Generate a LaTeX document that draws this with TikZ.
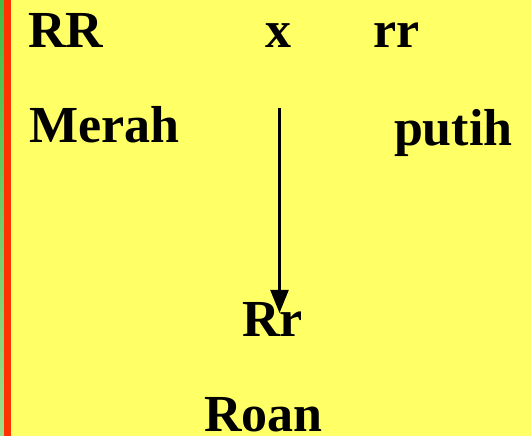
\documentclass[tikz,border=0pt]{standalone}
\usepackage{fontspec}
\setmainfont{Liberation Serif}
\usetikzlibrary{positioning,arrows.meta}
\definecolor{latar}{HTML}{FFFF66}
\definecolor{garismerah}{HTML}{FF3300}
\definecolor{hijauatas}{HTML}{44BB44}
\definecolor{hijaubawah}{HTML}{A0DC8C}
\begin{document}
\begin{tikzpicture}[x=1pt,y=1pt,
  teks/.style={anchor=base west,inner sep=0pt,outer sep=0pt,font=\fontsize{52}{60}\selectfont\bfseries}]
\fill[latar] (0,0) rectangle (531,436);
\shade[top color=hijauatas,bottom color=hijaubawah] (0,0) rectangle (4,436);
\fill[garismerah] (4,0) rectangle (11,436);
\useasboundingbox (0,0) rectangle (531,436);
\foreach \t/\x/\y/\n in {
 RR/28/388/induk1,
 x/265/388/kali,
 rr/373/388/induk2,
 Merah/29/293/merah,
 putih/394/290/putih,
 Rr/242/99/anak,
 Roan/204/4/roan
}
\node[teks](\n) at(\x,\y){\t};
\coordinate (awal) at (279.5,328);
\coordinate (ujung) at (279.5,123);
\draw[line width=2.2pt,-{Triangle[length=23pt,width=18pt]}] (awal) -- (ujung);
\end{tikzpicture}
\end{document}
